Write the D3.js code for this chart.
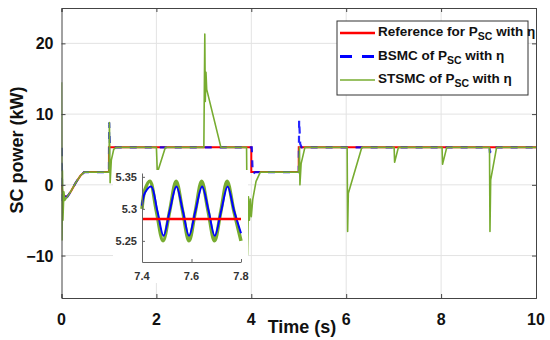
<!DOCTYPE html>
<html>
<head>
<meta charset="utf-8">
<script src="https://cdn.jsdelivr.net/npm/d3@7"></script>
<style>
  body { margin: 0; background: #fff; }
  text { font-family: "Liberation Sans", Arial, sans-serif; }
</style>
</head>
<body>
<script>

var w = 550, h = 340;

// main plot data (time in s, power in kW)
var refT = [0, 0.03, 0.12, 0.2, 0.3, 0.4, 0.48, 1.0, 1.0, 4.0, 4.0, 5.0, 5.0, 10];
var refP = [0, -1.5, -1.7, -0.9, 0.3, 1.3, 1.8, 1.8, 5.3, 5.3, 1.8, 1.8, 5.3, 5.3];

var bsmcT = [0, 0.005, 0.015, 0.03, 0.12, 0.2, 0.3, 0.4, 0.48, 1.0, 1.005, 1.02, 1.05, 4.01, 4.03, 4.08, 5.0, 5.008, 5.03, 5.06, 9.02, 9.03, 9.05, 10];
var bsmcP = [0, 5.7, -2.3, -1.5, -1.7, -0.9, 0.3, 1.3, 1.8, 1.8, 8.8, 5.8, 5.3, 5.3, 1.5, 1.8, 1.8, 9.2, 5.8, 5.3, 5.3, 4.5, 5.3, 5.3];

var stsmcT = [0, 0.01, 0.02, 0.03, 0.05, 0.07, 0.12, 0.2, 0.3, 0.4, 0.48, 1.0, 1.01, 1.025, 1.05, 1.1, 1.15,
  2.0, 2.02, 2.19, 3.0, 3.02, 3.03, 3.045, 3.06, 3.36, 3.9, 3.92, 3.94, 3.96, 3.98, 4.0, 4.03, 4.1, 4.19,
  5.0, 5.015, 5.025, 5.05, 5.13, 6.02, 6.03, 6.045, 6.33, 7.01, 7.02, 7.1, 8.02, 8.03, 8.12, 9.02, 9.03, 9.045, 9.17, 10];
var stsmcP = [14.5, -7.8, 2.0, -5.0, -1.0, -2.2, -1.7, -0.9, 0.3, 1.3, 1.8, 1.8, 8.8, 0.3, 3.5, 5.0, 5.3,
  5.3, 1.7, 5.3, 5.3, 21.3, 11.8, 15.9, 13.5, 5.3, 5.3, -9.9, -1.7, -5.0, -2.0, -4.5, -2.1, 0.5, 1.8,
  1.8, 5.3, 0.0, 3.0, 5.3, 5.3, -6.6, -1.2, 5.3, 5.3, 3.2, 5.3, 5.3, 2.9, 5.3, 5.3, -6.6, 0.7, 5.3, 5.3];

// zoomed inset data
var insRefT = [7.4, 7.8];
var insRefP = [5.284, 5.284];
var insBT = [7.4, 7.412, 7.437, 7.462, 7.487, 7.512, 7.539, 7.565, 7.59, 7.616, 7.643, 7.669, 7.694, 7.72, 7.746, 7.772, 7.8];
var insBP = [5.305, 5.325, 5.335, 5.297, 5.258, 5.297, 5.335, 5.297, 5.258, 5.297, 5.335, 5.297, 5.258, 5.297, 5.335, 5.297, 5.262];
var insGT = [7.4, 7.412, 7.432, 7.458, 7.485, 7.512, 7.538, 7.564, 7.59, 7.616, 7.641, 7.667, 7.693, 7.719, 7.744, 7.771, 7.8];
var insGP = [5.300, 5.33, 5.343, 5.297, 5.25, 5.297, 5.343, 5.297, 5.25, 5.297, 5.343, 5.297, 5.25, 5.297, 5.343, 5.297, 5.25];

var xTicks = [0, 2, 4, 6, 8, 10];
var yTicks = [-10, 0, 10, 20];
var insXTicks = [7.4, 7.6, 7.8];
var insYTicks = [5.25, 5.3, 5.35];

var legendLabels = ["Reference for P", "BSMC of P", "STSMC of P"];
var red = "#ff0000", blue = "#0000ff", green = "#77ac30";

function zip(a, b) { return a.map(function(d, i) { return [d, b[i]]; }); }

var svg = d3.select("body").append("svg")
  .attr("width", w).attr("height", h);

var L = 61.5, R = 536, T = 8, B = 298;
var x = d3.scaleLinear().domain([0, 10]).range([L, R]);
var y = d3.scaleLinear().domain([-16, 25]).range([B, T]);

// grid
svg.append("g").selectAll("line").data(xTicks.slice(1, -1)).enter().append("line")
  .attr("x1", function(d) { return x(d); }).attr("x2", function(d) { return x(d); })
  .attr("y1", T).attr("y2", B).attr("stroke", "#e3e3e3").attr("stroke-width", 1);
svg.append("g").selectAll("line").data(yTicks).enter().append("line")
  .attr("x1", L).attr("x2", R)
  .attr("y1", function(d) { return y(d); }).attr("y2", function(d) { return y(d); })
  .attr("stroke", "#e3e3e3").attr("stroke-width", 1);

svg.append("clipPath").attr("id", "clip").append("rect")
  .attr("x", L).attr("y", T).attr("width", R - L).attr("height", B - T);

var line = d3.line().x(function(d) { return x(d[0]); }).y(function(d) { return y(d[1]); });
var plot = svg.append("g").attr("clip-path", "url(#clip)");
plot.append("path").attr("d", line(zip(refT, refP)))
  .attr("fill", "none").attr("stroke", red).attr("stroke-width", 2);
plot.append("path").attr("d", line(zip(bsmcT, bsmcP)))
  .attr("fill", "none").attr("stroke", blue).attr("stroke-width", 2.2).attr("stroke-dasharray", "7,8")
  .attr("stroke-opacity", 0.85);
plot.append("path").attr("d", line(zip(stsmcT, stsmcP)))
  .attr("fill", "none").attr("stroke", green).attr("stroke-width", 1.6).attr("stroke-linejoin", "round");

// axes box
var axColor = "#444";
svg.append("g").attr("transform", "translate(0," + B + ")")
  .call(d3.axisBottom(x).tickValues(xTicks).tickSize(-4).tickFormat(""))
  .call(function(g) { g.selectAll("line,path").attr("stroke", axColor); });
svg.append("g").attr("transform", "translate(0," + T + ")")
  .call(d3.axisTop(x).tickValues(xTicks).tickSize(-4).tickFormat(""))
  .call(function(g) { g.selectAll("line,path").attr("stroke", axColor); });
svg.append("g").attr("transform", "translate(" + L + ",0)")
  .call(d3.axisLeft(y).tickValues(yTicks).tickSize(-4).tickFormat(""))
  .call(function(g) { g.selectAll("line,path").attr("stroke", axColor); });
svg.append("g").attr("transform", "translate(" + R + ",0)")
  .call(d3.axisRight(y).tickValues(yTicks).tickSize(-4).tickFormat(""))
  .call(function(g) { g.selectAll("line,path").attr("stroke", axColor); });

// tick labels
svg.append("g").selectAll("text").data(xTicks).enter().append("text")
  .attr("x", function(d) { return x(d); }).attr("y", 325)
  .attr("text-anchor", "middle").attr("font-size", "16px").attr("font-weight", "bold")
  .attr("fill", "#111").text(function(d) { return d; });
svg.append("g").selectAll("text").data(yTicks).enter().append("text")
  .attr("x", L - 8).attr("y", function(d) { return y(d) + 6; })
  .attr("text-anchor", "end").attr("font-size", "16px").attr("font-weight", "bold")
  .attr("fill", "#111").text(function(d) { return d < 0 ? "\u2212" + Math.abs(d) : d; });

svg.append("text").attr("x", 302).attr("y", 333)
  .attr("text-anchor", "middle").attr("font-size", "18px").attr("font-weight", "bold")
  .attr("fill", "#111").text("Time (s)");
svg.append("text").attr("transform", "translate(23,150) rotate(-90)")
  .attr("text-anchor", "middle").attr("font-size", "18px").attr("font-weight", "bold")
  .attr("fill", "#111").text("SC power (kW)");

// legend
var lg = svg.append("g");
lg.append("rect").attr("x", 337).attr("y", 21).attr("width", 191).attr("height", 74)
  .attr("fill", "#fff").attr("stroke", "#333").attr("stroke-width", 1);
var legColors = [red, blue, green];
var legDash = [null, "12,10", null];
var legWidth = [2.5, 3, 1.6];
legendLabels.forEach(function(lab, i) {
  var cy = 33 + i * 23.5;
  lg.append("line").attr("x1", 340).attr("x2", 375).attr("y1", cy).attr("y2", cy)
    .attr("stroke", legColors[i]).attr("stroke-width", legWidth[i])
    .attr("stroke-dasharray", legDash[i]);
  var t = lg.append("text").attr("x", 378).attr("y", cy + 3)
    .attr("font-size", "13.5px").attr("font-weight", "bold").attr("fill", "#111");
  t.append("tspan").text(lab);
  t.append("tspan").attr("font-size", "10.5px").attr("dy", 4).text("SC");
  t.append("tspan").attr("dy", -4).text(" with \u03b7");
});

// inset
var ins = svg.append("g");
ins.append("rect").attr("x", 113).attr("y", 170).attr("width", 135).attr("height", 113).attr("fill", "#fff");
var ix = d3.scaleLinear().domain([7.4, 7.8]).range([142, 241]);
var iy = d3.scaleLinear().domain([5.217, 5.356]).range([262, 173]);
var iline = d3.line().x(function(d) { return ix(d[0]); }).y(function(d) { return iy(d[1]); })
  .curve(d3.curveCatmullRom.alpha(0.5));
ins.append("path").attr("d", iline(zip(insGT, insGP)))
  .attr("fill", "none").attr("stroke", green).attr("stroke-width", 3.5);
ins.append("path").attr("d", iline(zip(insBT, insBP)))
  .attr("fill", "none").attr("stroke", blue).attr("stroke-width", 2);
ins.append("path").attr("d", iline(zip(insRefT, insRefP)))
  .attr("fill", "none").attr("stroke", red).attr("stroke-width", 2.5);

ins.append("g").attr("transform", "translate(0,262)")
  .call(d3.axisBottom(ix).tickValues(insXTicks).tickSize(-3).tickSizeOuter(0).tickFormat(""))
  .call(function(g) { g.selectAll("line,path").attr("stroke", "#666"); });
ins.append("g").attr("transform", "translate(142,0)")
  .call(d3.axisLeft(iy).tickValues(insYTicks).tickSize(-3).tickSizeOuter(0).tickFormat(""))
  .call(function(g) { g.selectAll("line,path").attr("stroke", "#666"); });
ins.append("g").selectAll("text").data(insXTicks).enter().append("text")
  .attr("x", function(d) { return ix(d); }).attr("y", 280)
  .attr("text-anchor", "middle").attr("font-size", "11px").attr("font-weight", "bold")
  .attr("fill", "#333").text(function(d) { return d.toFixed(1); });
ins.append("g").selectAll("text").data(insYTicks).enter().append("text")
  .attr("x", 137).attr("y", function(d) { return iy(d) + 4; })
  .attr("text-anchor", "end").attr("font-size", "11px").attr("font-weight", "bold")
  .attr("fill", "#333").text(function(d) { return d === 5.3 ? "5.3" : d.toFixed(2); });

</script>
</body>
</html>
